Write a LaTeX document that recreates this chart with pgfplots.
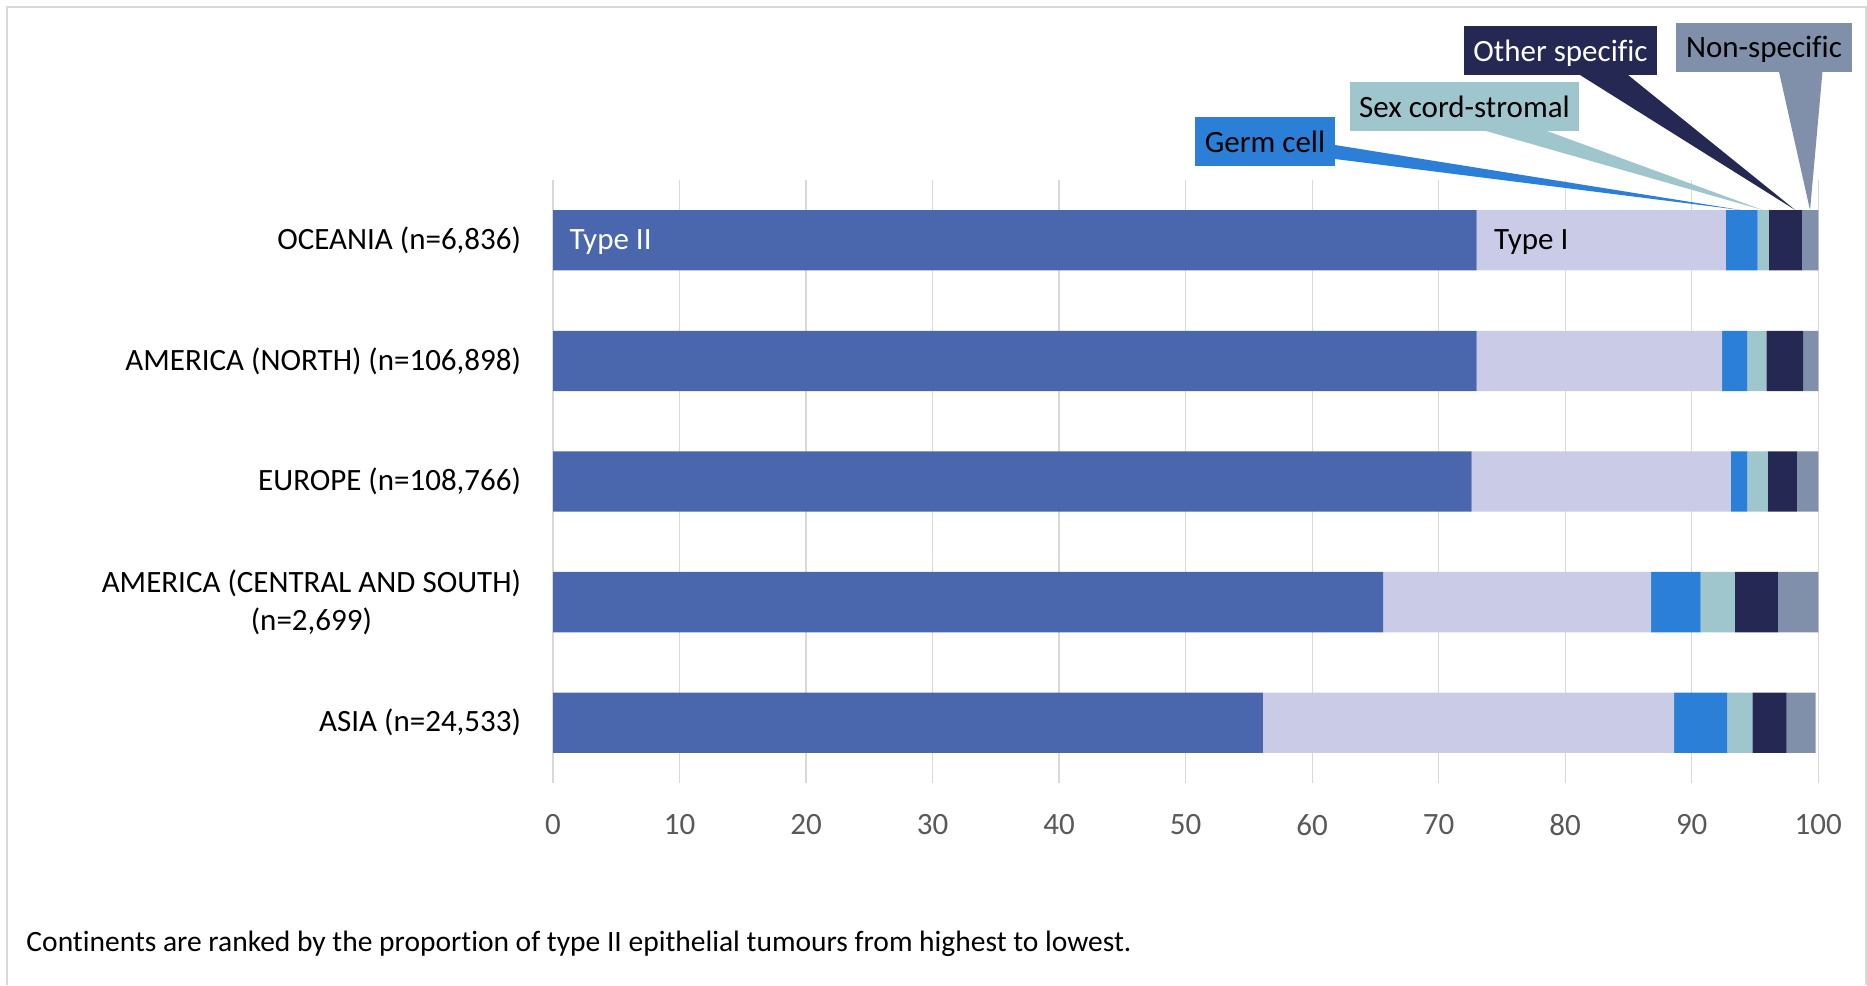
\documentclass[border=0pt]{standalone}
\usepackage{pgfplots}
\pgfplotsset{compat=1.18}
\usepackage{pgfplotstable}
\usepackage{fontspec}
\setmainfont{Carlito}[Ligatures=NoCommon]

\definecolor{typeII}{HTML}{4A66AD}
\definecolor{typeI}{HTML}{CACBE6}
\definecolor{germ}{HTML}{2B7FD6}
\definecolor{sexcord}{HTML}{9FC6CD}
\definecolor{otherspec}{HTML}{262854}
\definecolor{nonspec}{HTML}{8090AA}
\definecolor{gridgray}{HTML}{D9D9D9}
\definecolor{tickgray}{HTML}{595959}

\newcommand\lbl{\fontsize{12.4}{15.2}\selectfont}
\newcommand\foot{\fontsize{11.8}{14}\selectfont}

% Percentage of tumours by histological group, per continent (y = row position)
\pgfplotstableread{
y  t2    t1    gc   sc   os   ns
4  73.0  19.7  2.5  0.9  2.6  1.3
3  73.0  19.4  2.0  1.5  2.9  1.2
2  72.6  20.5  1.3  1.6  2.3  1.7
1  65.6  21.2  3.9  2.7  3.4  3.2
0  56.1  32.5  4.2  2.0  2.7  2.3
}\datatable

\begin{document}
\begin{tikzpicture}
\path[use as bounding box] (0,0) rectangle (746.8pt,-394pt);

\begin{axis}[
  at={(221.2pt,-313.2pt)}, anchor=south west,
  scale only axis, width=506.1pt, height=241.2pt,
  xbar stacked, bar width=0.5,
  xmin=0, xmax=100, ymin=-0.5, ymax=4.5,
  xtick={0,10,...,100}, ytick={0,1,2,3,4},
  yticklabels={{ASIA (n=24,533)},{AMERICA (CENTRAL AND SOUTH)\\(n=2,699)},{EUROPE (n=108,766)},{AMERICA (NORTH) (n=106,898)},{OCEANIA (n=6,836)}},
  axis line style={draw=none},
  major tick length=0pt,
  tick style={draw=none},
  xmajorgrids, grid style={color=gridgray, line width=0.5pt},
  /pgf/number format/assume math mode=true,
  xticklabel style={font=\lbl, text=tickgray, inner sep=0pt, anchor=north, yshift=-12.4pt},
  yticklabel style={font=\lbl, text=black, inner sep=0pt, align=center, anchor=east, xshift=-12.6pt},
]
\addplot[fill=typeII, draw=none] table[x=t2, y=y]{\datatable};
\addplot[fill=typeI, draw=none] table[x=t1, y=y]{\datatable};
\addplot[fill=germ, draw=none] table[x=gc, y=y]{\datatable};
\addplot[fill=sexcord, draw=none] table[x=sc, y=y]{\datatable};
\addplot[fill=otherspec, draw=none] table[x=os, y=y]{\datatable};
\addplot[fill=nonspec, draw=none] table[x=ns, y=y]{\datatable};

\coordinate (labII) at (axis cs:0,4);
\coordinate (labI) at (axis cs:73.0,4);
\coordinate (tipGC) at (axis cs:93.95,4.25);
\coordinate (tipSC) at (axis cs:95.65,4.25);
\coordinate (tipOS) at (axis cs:98.2,4.25);
\coordinate (tipNS) at (axis cs:99.35,4.25);
\end{axis}

% series names on the first bar
\node[anchor=west, inner sep=0pt, font=\lbl, text=white, xshift=6.4pt, yshift=-0.8pt] at (labII) {Type II};
\node[anchor=west, inner sep=0pt, font=\lbl, text=black, xshift=6.8pt, yshift=-0.8pt] at (labI) {Type I};

\begin{scope}[x=0.4pt, y=-0.4pt]
  % chart frame
  \draw[gridgray, line width=0.5pt] (7,985) -- (7,7) -- (1866,7) -- (1866,985);

  % callout pointers
  \fill[germ] (1335,145) -- (tipGC) -- (1335,159) -- cycle;
  \fill[sexcord] (1486,131) -- (tipSC) -- (1547,131) -- cycle;
  \fill[otherspec] (1580,75) -- (tipOS) -- (1628,75) -- cycle;
  \fill[nonspec] (1779,71.7) -- (tipNS) -- (1822.5,71.7) -- cycle;

  % callout boxes
  \fill[germ] (1195,117) rectangle (1335,166);
  \node[font=\lbl, text=black, inner sep=0pt] at (1265,141.5) {Germ cell};
  \fill[sexcord] (1349.6,82) rectangle (1579.5,131);
  \node[font=\lbl, text=black, inner sep=0pt] at (1464.5,106.5) {Sex cord-stromal};
  \fill[otherspec] (1464,26) rectangle (1657,75);
  \node[font=\lbl, text=white, inner sep=0pt] at (1560.5,53.5) {Other specific};
  \fill[nonspec] (1676.5,22.7) rectangle (1851.7,71.7);
  \node[font=\lbl, text=black, inner sep=0pt] at (1764,49.7) {Non-specific};

  % note
  \node[anchor=west, inner sep=0pt, font=\foot, text=black] at (26,944)
    {Continents are ranked by the proportion of type II epithelial tumours from highest to lowest.};
\end{scope}
\end{tikzpicture}
\end{document}
